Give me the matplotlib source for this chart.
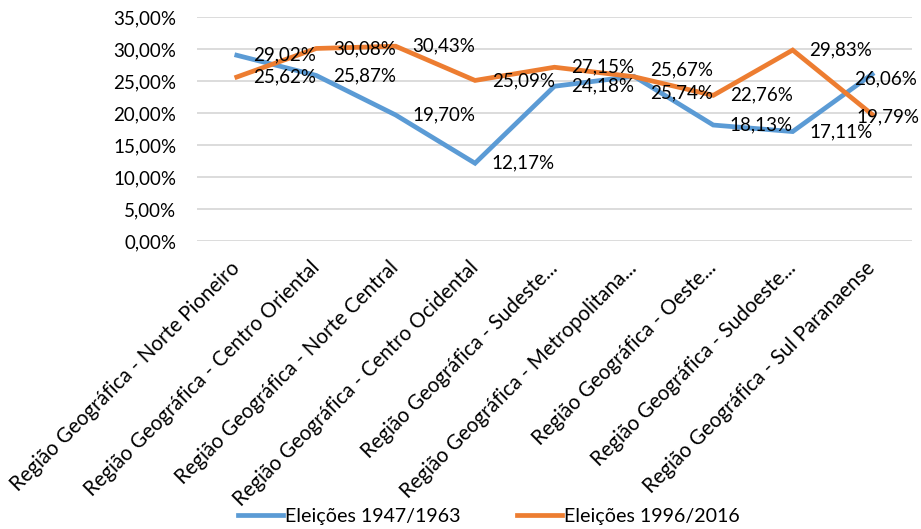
import matplotlib.pyplot as plt
from matplotlib.ticker import FuncFormatter

regioes = [
    'Região Geográfica - Norte Pioneiro',
    'Região Geográfica - Centro Oriental',
    'Região Geográfica - Norte Central',
    'Região Geográfica - Centro Ocidental',
    'Região Geográfica - Sudeste...',
    'Região Geográfica - Metropolitana...',
    'Região Geográfica - Oeste...',
    'Região Geográfica - Sudoeste...',
    'Região Geográfica - Sul Paranaense',
]
eleicoes_1947_1963 = [29.02, 25.87, 19.70, 12.17, 24.18, 25.74, 18.13, 17.11, 26.06]
eleicoes_1996_2016 = [25.62, 30.08, 30.43, 25.09, 27.15, 25.67, 22.76, 29.83, 19.79]

azul = '#5B9BD5'
laranja = '#ED7D31'

plt.rcParams['font.family'] = ['Lato', 'DejaVu Sans']
plt.rcParams['font.size'] = 13.5

fig = plt.figure(figsize=(9.21, 5.29), dpi=100)
ax = fig.add_axes([0.214, 0.544, 0.776, 0.424])

x = list(range(len(regioes)))
ax.plot(x, [v / 100 for v in eleicoes_1947_1963], color=azul, lw=3.4,
        solid_joinstyle='miter', label='Eleições 1947/1963')
ax.plot(x, [v / 100 for v in eleicoes_1996_2016], color=laranja, lw=3.4,
        solid_joinstyle='miter', label='Eleições 1996/2016')

# labels sit to the right of each point; a few are nudged to avoid overlap
ajustes = {('a', 5): (12, -12), ('l', 5): (12, 5),
           ('a', 8): (-13, -3), ('l', 8): (-11, -2)}
for serie, valores in (('a', eleicoes_1947_1963), ('l', eleicoes_1996_2016)):
    for i, v in enumerate(valores):
        dx, dy = ajustes.get((serie, i), (12, 0))
        ax.annotate(f'{v:.2f}%'.replace('.', ','), (i, v / 100),
                    xytext=(dx, dy), textcoords='offset points',
                    ha='left', va='center', fontsize=13.5, color='#000000')

ax.set_xlim(-0.5, len(regioes) - 0.5)
ax.set_ylim(0, 0.35)
ax.set_yticks([i * 0.05 for i in range(8)])
ax.yaxis.set_major_formatter(FuncFormatter(lambda v, p: f'{v * 100:.2f}%'.replace('.', ',')))
ax.grid(axis='y', color='#D9D9D9', lw=1.3)
ax.set_axisbelow(True)
for s in ax.spines.values():
    s.set_visible(False)
ax.tick_params(axis='both', length=0, labelsize=13.5)
ax.tick_params(axis='y', pad=15)
ax.set_xticks(x)
ax.set_xticklabels(regioes, rotation=45, ha='right', va='center',
                   rotation_mode='anchor', fontsize=14.8)
ax.tick_params(axis='x', pad=17)

fig.legend(loc='lower center', bbox_to_anchor=(0.531, -0.025), ncol=2,
           frameon=False, handlelength=2.3, handletextpad=0.1,
           columnspacing=2.9, fontsize=14.1)

fig.savefig('out.png', dpi=100)
